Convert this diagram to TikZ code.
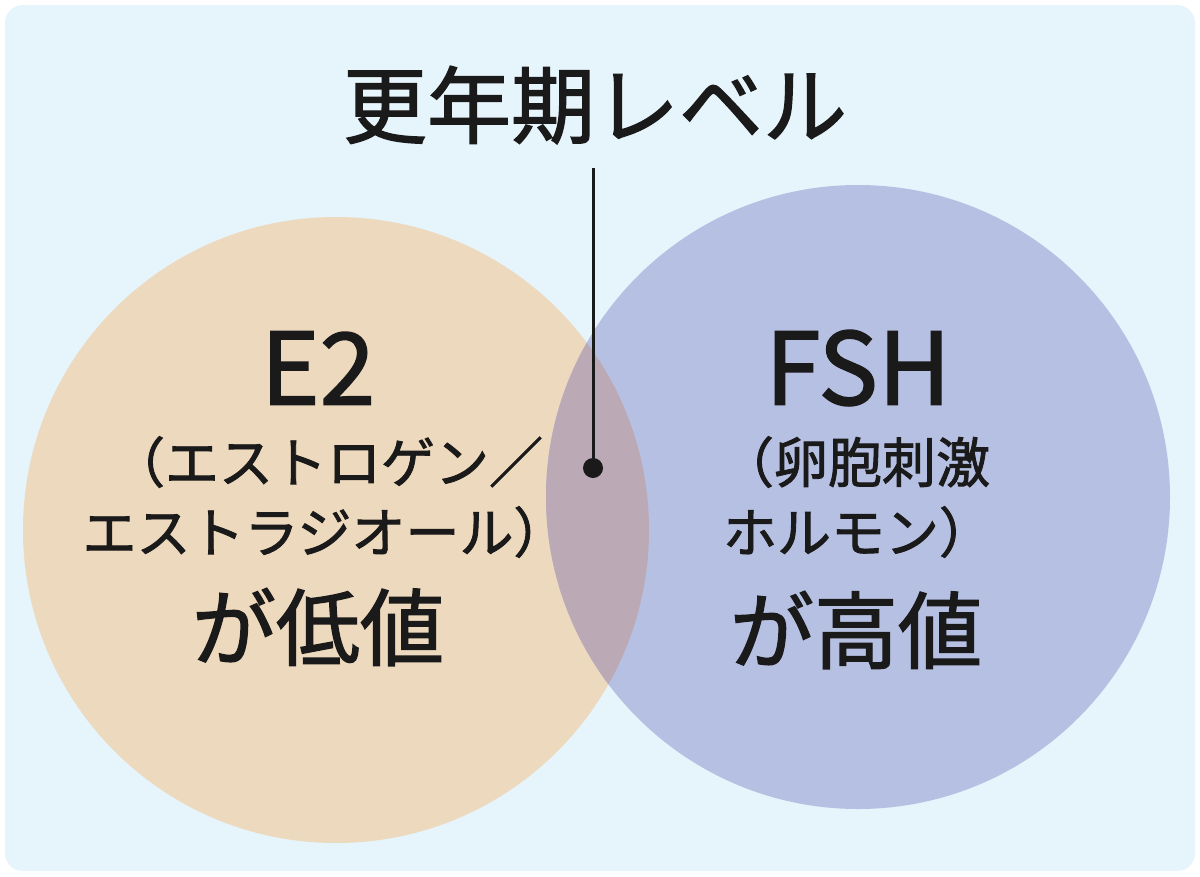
\documentclass[tikz,border=0pt]{standalone}
\usepackage{fontspec}
\newfontfamily\cjk[FakeBold=1.6]{Noto Sans CJK JP}
\definecolor{bgc}{HTML}{E6F4FB}
\definecolor{lc}{HTML}{EDD9BD}
\definecolor{rc}{HTML}{B6C0E2}
\definecolor{oc}{HTML}{BBA9B5}
\definecolor{tc}{HTML}{1A1A1A}
\begin{document}
\begin{tikzpicture}[x=1pt,y=-1pt,
 big/.style={font=\cjk\fontsize{84}{90}\selectfont,text=tc,inner sep=0},
 mid/.style={font=\cjk\fontsize{54}{58}\selectfont,text=tc,inner sep=0},
 lat/.style={font=\cjk\fontsize{100}{100}\selectfont,text=tc,inner sep=0}]
\useasboundingbox (0,0) rectangle (1200,876);
\fill[white] (0,0) rectangle (1200,876);
\fill[bgc,rounded corners=18] (5,5) rectangle (1195,871);
\fill[lc] (336,530) circle (313);
\fill[rc] (858,497) circle (312);
\begin{scope}
\clip (336,530) circle (313);
\fill[oc] (858,497) circle (312);
\end{scope}
\node[big] (t) at (595,105) {更年期レベル};
\coordinate (d) at (593,468);
\draw[line width=3,tc] (593,168) -- (d);
\fill[tc] (d) circle (10);
\node[lat] (e2) at (318,368) {E2};
\node[mid] (l1) at (327,462) {（エストロゲン／};
\node[mid] (l2) at (325,532) {エストラジオール）};
\node[big] (l3) at (318,627) {が低値};
\node[lat] (fsh) at (858,368) {FSH};
\node[mid] (r1) at (855,462) {（卵胞刺激};
\node[mid] (r2) at (858,532) {ホルモン）};
\node[big] (r3) at (856,630) {が高値};
\end{tikzpicture}
\end{document}
